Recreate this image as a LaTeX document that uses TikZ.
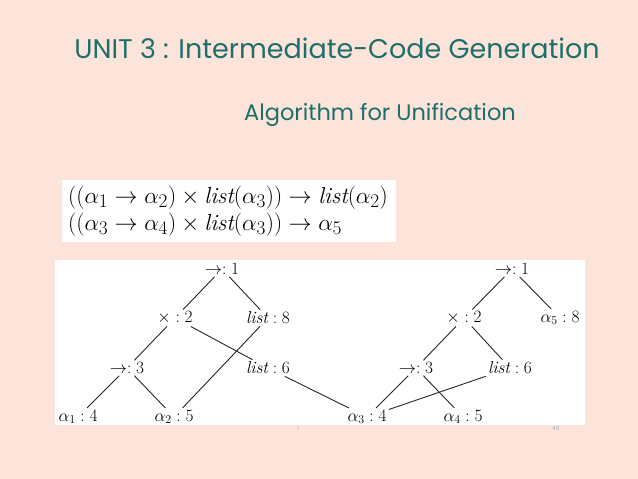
\documentclass[tikz,border=0pt]{standalone}
\usepackage{fontspec}
\newfontfamily\slidefont{Poppins}
\definecolor{fundo}{HTML}{FCE4DB}
\definecolor{verde}{HTML}{1E6E6A}
\tikzset{
  rotulo/.style={inner sep=2pt, font=\fontsize{17.28}{20}\selectfont},
  aresta/.style={line width=0.9pt, black!85}
}
\begin{document}
\begin{tikzpicture}[x=1pt, y=-1pt]

    % Fundo do slide
    \fill[fundo] (0,0) rectangle (638,479);

    % Titulos
    \node[text=verde, font=\slidefont\fontsize{27}{32}\selectfont] (titulo) at (337,48) {UNIT 3 : Intermediate-Code Generation};
    \node[text=verde, font=\slidefont\fontsize{22.5}{27}\selectfont] (subtitulo) at (380,115) {Algorithm for Unification};

    % Expressoes de tipo
    \fill[white] (62,180) rectangle (396,242);
    \node[anchor=west, align=left, inner sep=0pt, scale=0.93, font=\fontsize{24.88}{29}\selectfont] (tipos) at (68,211)
      {$((\alpha_1 \rightarrow \alpha_2) \times \mathit{list}(\alpha_3)) \rightarrow \mathit{list}(\alpha_2)$\\
       $((\alpha_3 \rightarrow \alpha_4) \times \mathit{list}(\alpha_3)) \rightarrow \alpha_5$};

    % Area das arvores
    \fill[white] (55,260) rectangle (585,425);

    % Arvore esquerda
    \node[rotulo] (e1) at (222,269) {$\rightarrow: 1$};
    \node[rotulo] (e2) at (175,318) {$\times : 2$};
    \node[rotulo] (e8) at (268,318) {$\mathit{list} : 8$};
    \node[rotulo] (e3) at (127,368) {$\rightarrow: 3$};
    \node[rotulo] (e6) at (268,368) {$\mathit{list} : 6$};
    \node[rotulo] (e4) at (78,417) {$\alpha_1 : 4$};
    \node[rotulo] (e5) at (174,417) {$\alpha_2 : 5$};

    % Arvore direita
    \node[rotulo] (d1) at (512,269) {$\rightarrow: 1$};
    \node[rotulo] (d2) at (464,318) {$\times : 2$};
    \node[rotulo] (d8) at (560,318) {$\alpha_5 : 8$};
    \node[rotulo] (d3) at (416,368) {$\rightarrow: 3$};
    \node[rotulo] (d6) at (510,368) {$\mathit{list} : 6$};
    \node[rotulo] (d4) at (367,417) {$\alpha_3 : 4$};
    \node[rotulo] (d5) at (463,417) {$\alpha_4 : 5$};

    % Arestas
    \draw[aresta] (e1) -- (e2);
    \draw[aresta] (e1) -- (e8);
    \draw[aresta] (e2) -- (e3);
    \draw[aresta] (e2) -- (e6);
    \draw[aresta] (e3) -- (e4);
    \draw[aresta] (e3) -- (e5);
    \draw[aresta] (e8) -- (e5);
    \draw[aresta] (e6) -- (d4);

    \draw[aresta] (d1) -- (d2);
    \draw[aresta] (d1) -- (d8);
    \draw[aresta] (d2) -- (d3);
    \draw[aresta] (d2) -- (d6);
    \draw[aresta] (d3) -- (d4);
    \draw[aresta] (d3) -- (d5);
    \draw[aresta] (d6) -- (d4);

    % Numeros da pagina
    \node[text=gray!60, font=\slidefont\fontsize{6}{7}\selectfont] (pag1) at (298,428) {1};
    \node[text=gray!60, font=\slidefont\fontsize{6}{7}\selectfont] (pag48) at (556,428) {48};

\end{tikzpicture}
\end{document}
